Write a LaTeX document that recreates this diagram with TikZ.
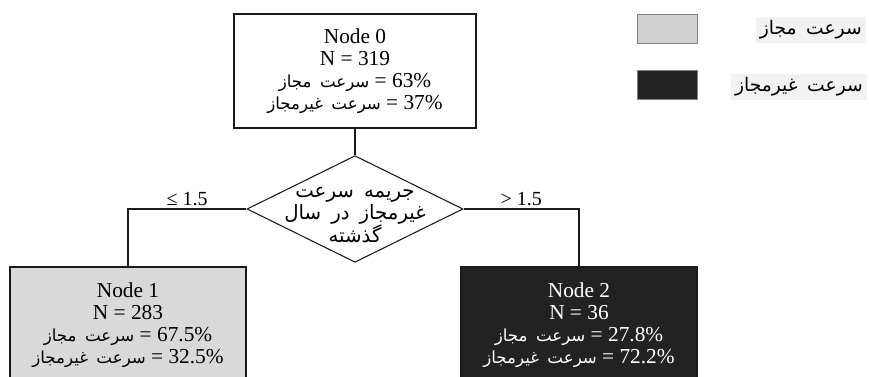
\documentclass[tikz,border=0pt]{standalone}
\usepackage{fontspec}
\setmainfont{Liberation Serif}
\newfontfamily\arabicfont[Script=Arabic,Scale=0.78,WordSpace=1.6]{DejaVu Sans}
\TeXXeTstate=1
\usetikzlibrary{shapes.geometric,positioning}
\definecolor{dtLight}{HTML}{D9D9D9}
\definecolor{dtKey}{HTML}{D0D0D0}
\definecolor{dtDark}{HTML}{222222}
\definecolor{dtLine}{HTML}{1A1A1A}
\definecolor{dtTag}{HTML}{F2F2F2}
\newcommand{\fa}[1]{{\arabicfont\beginR #1\endR}}
\tikzset{
  dtbox/.style={rectangle,draw=dtLine,line width=0.8pt,inner sep=0pt,
                align=center,font=\fontsize{16}{16.5}\selectfont},
  dtroot/.style={dtbox,fill=white,minimum width=181.5pt,minimum height=85.5pt},
  dtleaf/.style={dtbox,minimum width=177pt,minimum height=87pt},
  dtsplit/.style={diamond,draw=dtLine,line width=0.8pt,aspect=2,inner sep=0pt,
                  minimum width=162pt,minimum height=80pt},
  dtlabel/.style={font=\fontsize{15}{16.5}\selectfont,inner sep=2pt},
  dtedge/.style={draw=dtLine,line width=0.8pt},
  dtkey/.style={rectangle,draw=gray,line width=0.6pt,minimum width=45pt,
                minimum height=21.75pt,inner sep=0pt},
  dttag/.style={fill=dtTag,inner sep=3pt,font=\fontsize{18}{20}\selectfont}
}

\begin{document}
\begin{tikzpicture}[x=0.75pt,y=-0.75pt]
  \clip (0,0) rectangle (869,377);
  \useasboundingbox (0,0) rectangle (869,377);

  % tree
  \node[dtroot] (n0) at (355,71) {Node 0\\N = 319\\
    \fa{سرعت مجاز} = 63\%\\\fa{سرعت غیرمجاز} = 37\%};
  \node[dtsplit] (split) at (355,209) {};
  \node[font=\arabicfont\fontsize{19}{16.5}\selectfont,align=center] (splittext)
    at (355,215) {\beginR جریمه سرعت\endR\\\beginR غیرمجاز در سال\endR\\
    \beginR گذشته\endR};
  \node[dtleaf,fill=dtLight] (n1) at (128,325) {Node 1\\N = 283\\
    \fa{سرعت مجاز} = 67.5\%\\\fa{سرعت غیرمجاز} = 32.5\%};
  \node[dtleaf,fill=dtDark,text=white] (n2) at (579,325) {Node 2\\N = 36\\
    \fa{سرعت مجاز} = 27.8\%\\\fa{سرعت غیرمجاز} = 72.2\%};

  \draw[dtedge] (n0) -- (split);
  \draw[dtedge] (split.west) -| node[dtlabel,above,pos=0.25] {≤ 1.5} (n1);
  \draw[dtedge] (split.east) -| node[dtlabel,above,pos=0.25] {> 1.5} (n2);

  % legend
  \node[dtkey,fill=dtKey] (keylight) at (667,29) {};
  \node[dtkey,fill=dtDark] (keydark) at (667,85) {};
  \node[dttag,anchor=east] (taglight) at (866,30) {\fa{سرعت مجاز}};
  \node[dttag,anchor=east] (tagdark) at (867,87) {\fa{سرعت غیرمجاز}};
\end{tikzpicture}
\end{document}
